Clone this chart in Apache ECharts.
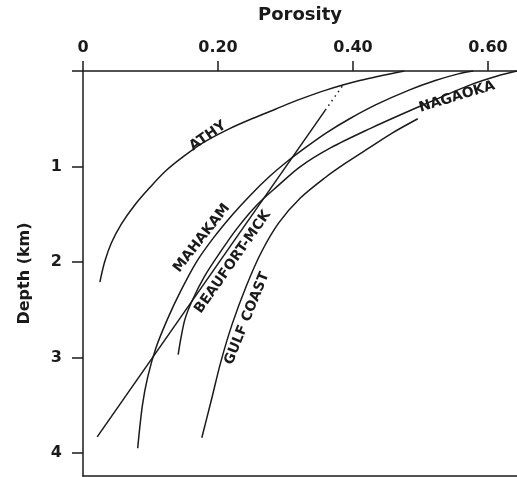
<!DOCTYPE html>
<html>
<head>
<meta charset="utf-8">
<script src="https://cdn.jsdelivr.net/npm/echarts@6/dist/echarts.min.js"></script>
<style>
  html, body { margin: 0; padding: 0; background: #fff; }
  #chart { width: 517px; height: 477px; }
</style>
</head>
<body>
<div id="chart"></div>
<script>
// Porosity–depth compaction curves: [porosity, depth in km]
const athy = [[0.476,0],[0.41,0.1],[0.36,0.2],[0.32,0.3],[0.285,0.4],[0.25,0.5],[0.218,0.6],[0.178,0.75],[0.148,0.9],[0.122,1.05],[0.099,1.22],[0.077,1.4],[0.057,1.6],[0.042,1.8],[0.032,2.0],[0.025,2.21]];
const linearTrend = [[0.021,3.83],[0.359,0.41]];
const linearTrendDotted = [[0.359,0.41],[0.386,0.14]];
const mahakam = [[0.578,0],[0.556,0.03],[0.522,0.1],[0.483,0.2],[0.435,0.35],[0.395,0.5],[0.36,0.65],[0.33,0.8],[0.302,0.95],[0.277,1.1],[0.248,1.3],[0.222,1.5],[0.193,1.75],[0.168,2.0],[0.145,2.3],[0.125,2.6],[0.108,2.9],[0.096,3.2],[0.088,3.5],[0.081,3.95]];
const beaufort = [[0.643,0],[0.615,0.05],[0.572,0.15],[0.522,0.3],[0.473,0.45],[0.426,0.6],[0.368,0.8],[0.322,1.0],[0.289,1.2],[0.258,1.4],[0.228,1.65],[0.203,1.9],[0.18,2.15],[0.162,2.4],[0.151,2.6],[0.145,2.8],[0.141,2.97]];
const gulfCoast = [[0.496,0.50],[0.458,0.65],[0.425,0.80],[0.39,0.96],[0.358,1.12],[0.322,1.33],[0.29,1.59],[0.264,1.9],[0.242,2.25],[0.221,2.65],[0.204,3.05],[0.19,3.45],[0.176,3.84]];

// Curve names placed along the curves: [porosity, depth, text, angle]
const curveLabels = [
  [0.185, 0.68, 'ATHY', 35],
  [0.176, 1.75, 'MAHAKAM', 52],
  [0.222, 2.0, 'BEAUFORT-MCK', 55],
  [0.243, 2.59, 'GULF COAST', 68],
  [0.554, 0.27, 'NAGAOKA', 17]
];

const xTicks = [0, 0.2, 0.4, 0.6];
const xTickLabels = ['0', '0.20', '0.40', '0.60'];
const yTicks = [0, 1, 2, 3, 4];
const yTickLabels = [1, 2, 3, 4];

const FONT = 'DejaVu Sans';
const INK = '#1a1a1a';

const chart = echarts.init(document.getElementById('chart'), null, { renderer: 'canvas' });

function curve(name, data, dotted) {
  return {
    type: 'line', name: name, data: data, xAxisIndex: 0, yAxisIndex: 0,
    symbol: 'none', smooth: 0.3, silent: true,
    lineStyle: { color: INK, width: 1.5, type: dotted ? [1.5, 4] : 'solid' }
  };
}

chart.setOption({
  backgroundColor: '#fff',
  animation: false,
  grid: { left: 83, right: 0, top: 71, bottom: 1, containLabel: false, outerBoundsMode: 'none' },
  xAxis: [{
    type: 'value', position: 'top', min: 0, max: 0.643,
    name: 'Porosity', nameLocation: 'middle', nameGap: 47,
    nameTextStyle: { fontFamily: FONT, fontWeight: 'bold', fontSize: 18, color: INK },
    axisLine: { show: true, lineStyle: { color: INK, width: 1.5 } },
    axisTick: { show: true, inside: false, length: 10, customValues: xTicks, lineStyle: { color: INK, width: 1.5 } },
    axisLabel: {
      margin: 15, fontFamily: FONT, fontWeight: 'bold', fontSize: 16, color: INK,
      customValues: xTicks,
      formatter: v => xTickLabels[xTicks.findIndex(t => Math.abs(t - v) < 1e-6)] || ''
    },
    splitLine: { show: false }
  }, {
    type: 'value', position: 'bottom', min: 0, max: 0.643,
    axisLine: { show: true, lineStyle: { color: INK, width: 1.5 } },
    axisTick: { show: false }, axisLabel: { show: false }, splitLine: { show: false }
  }],
  yAxis: {
    type: 'value', inverse: true, min: 0, max: 4.24,
    name: 'Depth (km)', nameLocation: 'middle', nameGap: 50, nameRotate: 90,
    nameTextStyle: { fontFamily: FONT, fontWeight: 'bold', fontSize: 16, color: INK },
    axisLine: { show: true, lineStyle: { color: INK, width: 1.5 } },
    axisTick: { show: true, length: 11, customValues: yTicks, lineStyle: { color: INK, width: 1.5 } },
    axisLabel: {
      margin: 21, fontFamily: FONT, fontWeight: 'bold', fontSize: 16, color: INK,
      customValues: yTickLabels,
      formatter: v => String(v)
    },
    splitLine: { show: false }
  },
  series: [
    curve('Athy', athy),
    curve('Linear trend', linearTrend),
    curve('Linear trend (extrapolated)', linearTrendDotted, true),
    curve('Mahakam', mahakam),
    curve('Beaufort-MCK', beaufort),
    curve('Gulf Coast', gulfCoast),
    {
      type: 'scatter', silent: true, symbolSize: 0,
      itemStyle: { opacity: 1 },
      data: curveLabels.map(d => ({
        value: [d[0], d[1]],
        label: {
          show: true, position: 'inside', rotate: d[3], formatter: d[2],
          fontFamily: FONT, fontWeight: 'bold', fontSize: 14, color: INK,
          textBorderWidth: 0
        }
      }))
    }
  ]
});
</script>
</body>
</html>
